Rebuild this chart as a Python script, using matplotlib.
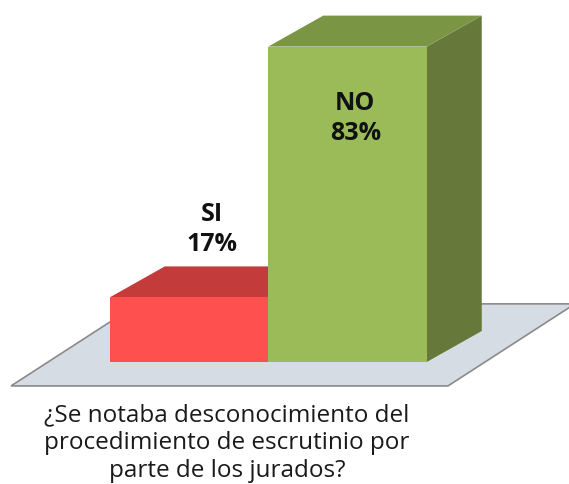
import matplotlib
matplotlib.use("Agg")
import matplotlib.pyplot as plt
from matplotlib.patches import Polygon

categories = ["SI", "NO"]
values = [17, 83]
labels = ["SI\n17%", "NO\n83%"]
question = "¿Se notaba desconocimiento del\nprocedimiento de escrutinio por\nparte de los jurados?"

front_colors = ["#ff5050", "#9bbb59"]
top_colors = ["#c33b3b", "#7a9543"]
side_colors = ["#a32f2f", "#66793a"]

W, H = 569, 484
fig = plt.figure(figsize=(W / 100, H / 100), dpi=100)
ax = fig.add_axes([0, 0, 1, 1])
xpu, ypu = 158.5, 3.8
x0px, y0px = 189, 122
ax.set_xlim(-x0px / xpu, (W - x0px) / xpu)
ax.set_ylim(-y0px / ypu, (H - y0px) / ypu)
ax.axis("off")

dx = 55 / xpu
dy = 31 / ypu
width = 1.0

# floor
fx = [-1.123, 1.634, 2.435, -0.322]
fy = [-6.3, -6.3, 15.3, 15.3]
ax.add_patch(Polygon(list(zip(fx, fy)), closed=True, facecolor="#d6dce4",
                     edgecolor="#8a8a8a", linewidth=1.2, zorder=1))

xs = list(range(len(categories)))
bars = ax.bar(xs, values, width=width, color=front_colors, zorder=3, linewidth=0)
for i, (b, v) in enumerate(zip(bars, values)):
    l = b.get_x()
    r = l + b.get_width()
    top = [(l, v), (r, v), (r + dx, v + dy), (l + dx, v + dy)]
    side = [(r, 0), (r + dx, dy), (r + dx, v + dy), (r, v)]
    ax.add_patch(Polygon(side, closed=True, facecolor=side_colors[i], linewidth=0, zorder=2 + i * 2))
    ax.add_patch(Polygon(top, closed=True, facecolor=top_colors[i], linewidth=0, zorder=2 + i * 2))
    b.set_zorder(3 + i * 2)

fkw = dict(fontsize=18, fontweight="bold", family="Open Sans",
           ha="center", linespacing=1.25, color="#111111", zorder=10)
ax.text(xs[0] + dx / 2 - 0.03, values[0] + dy + 2.5, labels[0], va="bottom", **fkw)
ax.text(xs[1] + 0.05, values[1] - 19, labels[1], va="center", **fkw)

ax.text((227 - x0px) / xpu, (H - 443 - y0px) / ypu, question, ha="center", va="center",
        fontsize=17.5, family="Open Sans", linespacing=1.22, color="#1a1a1a")

fig.savefig("out.png", dpi=100)
